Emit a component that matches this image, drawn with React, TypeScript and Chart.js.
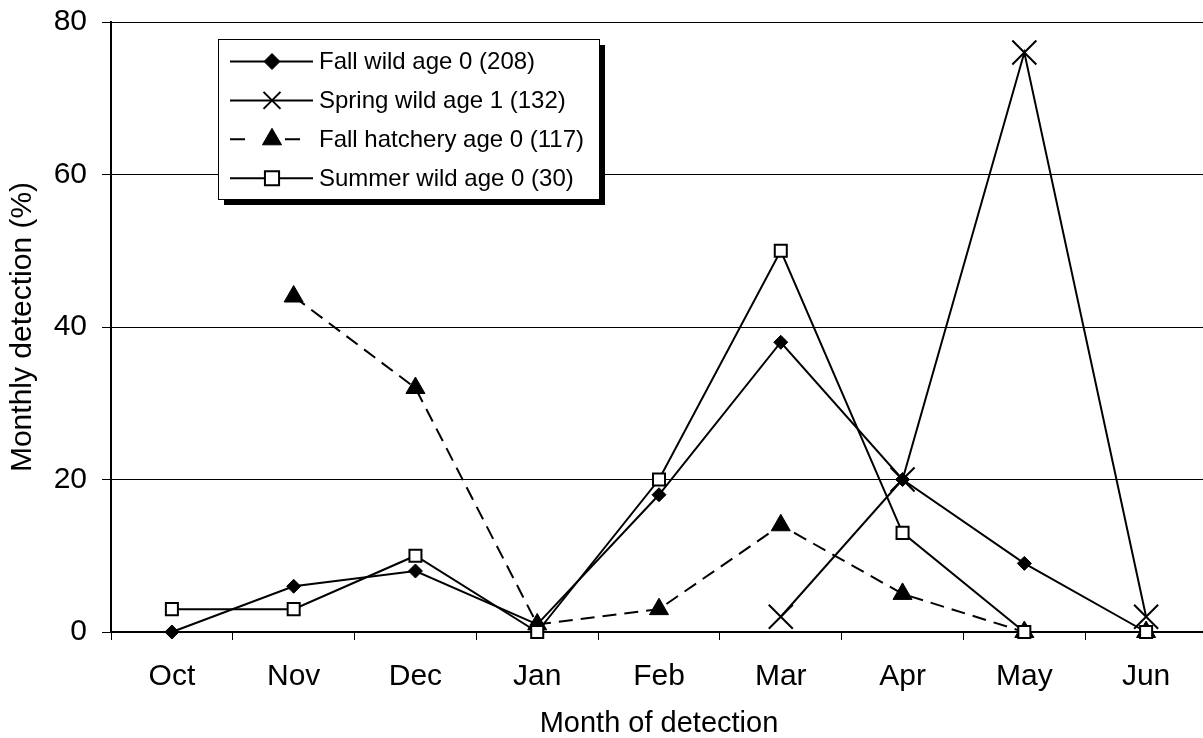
import React, { useEffect, useRef } from 'react';
import { Chart, registerables } from 'chart.js';
import { drawPoint } from 'chart.js/helpers';

Chart.register(...registerables);

const months = ['Oct', 'Nov', 'Dec', 'Jan', 'Feb', 'Mar', 'Apr', 'May', 'Jun'];
const fallWild = [0, 6, 8, 1, 18, 38, 20, 9, 0];
const springWild = [null, null, null, null, null, 2, 20, 76, 2];
const fallHatchery = [null, 44, 32, 1, 3, 14, 5, 0, 0];
const summerWild = [3, 3, 10, 0, 20, 50, 13, 0, 0];
const seriesLabels = [
  'Fall wild age 0 (208)',
  'Spring wild age 1 (132)',
  'Fall hatchery age 0 (117)',
  'Summer wild age 0 (30)',
];
const yMin = 0;
const yMax = 80;
const yStep = 20;
const xTitle = 'Month of detection';
const yTitle = 'Monthly detection (%)';

const FONT = "'Liberation Sans', Arial, Helvetica, sans-serif";

const legendRadii = [8, 12, 11, 10];
const PLOT_RIGHT = 1207;

const areaPlugin = {
  id: 'forceArea',
  afterLayout(chart: any) {
    const ca = chart.chartArea;
    ca.right = PLOT_RIGHT;
    ca.width = ca.right - ca.left;
    const x = chart.scales.x;
    x.right = PLOT_RIGHT;
    x.width = x.right - x.left;
    x.configure();
  },
};

const legendPlugin = {
  id: 'boxLegend',
  afterDraw(chart: any) {
    const ctx = chart.ctx as CanvasRenderingContext2D;
    const bx = 218, by = 39, bw = 381, bh = 160;
    ctx.save();
    ctx.fillStyle = '#000';
    ctx.fillRect(bx + 6, by + 6, bw, bh);
    ctx.fillStyle = '#fff';
    ctx.fillRect(bx, by, bw, bh);
    ctx.strokeStyle = '#000';
    ctx.lineWidth = 1;
    ctx.strokeRect(bx + 0.5, by + 0.5, bw, bh);
    const order = [0, 1, 2, 3];
    order.forEach((di, i) => {
      const ds = chart.data.datasets[di];
      const y = 61.5 + i * 38.9;
      const xm = 272;
      const segs = ds.borderDash ? [[230, 245], [285, 300]] : [[230, 313]];
      ctx.save();
      ctx.strokeStyle = '#000';
      ctx.lineWidth = 2;
      ctx.beginPath();
      segs.forEach(([a, b]) => {
        ctx.moveTo(a, y);
        ctx.lineTo(b, y);
      });
      ctx.stroke();
      ctx.lineWidth = ds.pointBorderWidth;
      ctx.strokeStyle = ds.pointBorderColor;
      ctx.fillStyle = ds.pointBackgroundColor;
      drawPoint(ctx, { pointStyle: ds.pointStyle, rotation: 0, radius: legendRadii[di], borderWidth: ds.pointBorderWidth }, xm, y);
      ctx.restore();
      ctx.fillStyle = '#000';
      ctx.font = `24px ${FONT}`;
      ctx.textBaseline = 'middle';
      ctx.textAlign = 'left';
      ctx.fillText(ds.label, 319, y + 1);
    });
    ctx.restore();
  },
};

export default function App() {
  const ref = useRef<HTMLCanvasElement>(null);
  useEffect(() => {
    Chart.defaults.color = '#000';
    const chart = new Chart(ref.current as HTMLCanvasElement, {
      type: 'line',
      data: {
        labels: months,
        datasets: [
          {
            label: seriesLabels[0],
            data: fallWild,
            borderColor: '#000',
            backgroundColor: '#000',
            borderWidth: 2,
            pointStyle: 'rectRot',
            pointRadius: 7,
            pointBorderWidth: 1,
            pointBackgroundColor: '#000',
            pointBorderColor: '#000',
            tension: 0,
            order: 3,
            clip: false,
          } as any,
          {
            label: seriesLabels[1],
            data: springWild,
            borderColor: '#000',
            backgroundColor: '#000',
            borderWidth: 2,
            pointStyle: 'crossRot',
            pointRadius: 17,
            pointBorderWidth: 2,
            pointBackgroundColor: '#000',
            pointBorderColor: '#000',
            tension: 0,
            spanGaps: false,
            order: 2,
            clip: false,
          } as any,
          {
            label: seriesLabels[2],
            data: fallHatchery,
            borderColor: '#000',
            backgroundColor: '#000',
            borderWidth: 2,
            borderDash: [14, 8],
            pointStyle: 'triangle',
            pointRadius: 11,
            pointBorderWidth: 1,
            pointBackgroundColor: '#000',
            pointBorderColor: '#000',
            tension: 0,
            order: 1,
            clip: false,
          } as any,
          {
            label: seriesLabels[3],
            data: summerWild,
            borderColor: '#000',
            backgroundColor: '#fff',
            borderWidth: 2,
            pointStyle: 'rect',
            pointRadius: 8.5,
            pointBorderWidth: 2,
            pointBackgroundColor: '#fff',
            pointBorderColor: '#000',
            tension: 0,
            order: 0,
            clip: false,
          } as any,
        ],
      },
      options: {
        responsive: false,
        devicePixelRatio: 1,
        animation: false,
        layout: { padding: { top: 22, left: 0, right: 0, bottom: 0 } },
        plugins: {
          legend: { display: false },
          tooltip: { enabled: false },
          title: { display: false },
        },
        scales: {
          x: {
            offset: true,
            afterFit: (s: any) => {
              s.height = 106;
              s.paddingLeft = 0;
              s.paddingRight = 0;
              s.paddingTop = 0;
              s.paddingBottom = 0;
            },
            grid: {
              offset: true,
              drawOnChartArea: false,
              drawTicks: true,
              tickLength: 8,
              color: '#000',
              lineWidth: 1,
            },
            border: { display: true, color: '#000', width: 2 },
            ticks: {
              color: '#000',
              padding: 19,
              maxRotation: 0,
              font: { family: FONT, size: 30 },
            },
            title: {
              display: true,
              text: xTitle,
              color: '#000',
              font: { family: FONT, size: 29, lineHeight: 1 },
              padding: { top: 0, bottom: 0 },
            },
          },
          y: {
            min: yMin,
            max: yMax,
            afterFit: (s: any) => {
              s.width = 111;
              s.paddingTop = 0;
              s.paddingBottom = 0;
              s.paddingLeft = 0;
              s.paddingRight = 0;
            },
            grid: {
              color: '#000',
              lineWidth: 1,
              drawTicks: true,
              tickLength: 9,
            },
            border: { display: true, color: '#000', width: 2 },
            ticks: {
              stepSize: yStep,
              color: '#000',
              padding: 15,
              font: { family: FONT, size: 30 },
            },
            title: {
              display: true,
              text: yTitle,
              color: '#000',
              font: { family: FONT, size: 30, lineHeight: 1 },
              padding: { top: 8, bottom: 0 },
            },
          },
        },
      },
      plugins: [areaPlugin, legendPlugin],
    });
    return () => chart.destroy();
  }, []);
  return (
    <div style={{ position: 'fixed', left: 0, top: 0, width: 1203, height: 738, overflow: 'hidden', background: '#fff' }}>
      <canvas ref={ref} width={1203} height={738} style={{ display: 'block', width: 1203, height: 738 }} />
    </div>
  );
}
